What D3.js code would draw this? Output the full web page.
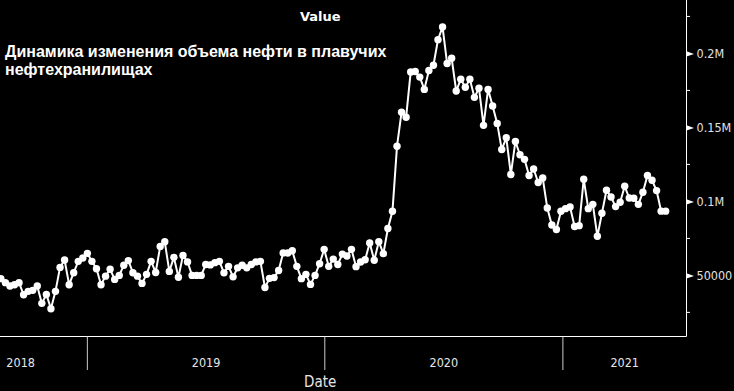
<!DOCTYPE html>
<html><head><meta charset="utf-8">
<script src="https://cdn.jsdelivr.net/npm/d3@7"></script>
<style>html,body{margin:0;padding:0;background:#000;overflow:hidden}svg{display:block}</style>
</head><body><svg id="c" width="734" height="391"></svg>
<script>
// ---------- data ----------
const titleLines = ["Динамика изменения объема нефти в плавучих", "нефтехранилищах"];
const seriesName = "Value";
const xAxisTitle = "Date";
const firstWeek = "2018-08-21";
const values = [
  47800,45100,42800,43700,45100,36900,39200,39900,42800,31100,
  37100,27500,39200,55400,60400,43700,51800,59500,61700,64900,
  59500,54500,43700,49500,54100,47300,50000,56800,60000,51800,
  49500,44600,50700,59500,52000,69600,72700,52700,62200,48700,
  63500,59100,50000,50000,50000,57400,57100,58600,59500,51700,
  56100,49000,55100,56800,55100,57400,59100,59500,41800,48000,
  48500,53300,65200,65100,66600,56100,47800,50700,43900,50000,
  57900,67600,56100,61000,57400,64400,63100,67600,55900,59000,
  60600,71900,60200,72800,64700,81700,93300,137300,160300,156900,
  187400,187800,184000,175700,188500,192000,209300,217900,193200,196700,
  174600,182500,177100,182500,170300,176500,151400,175700,164500,152700,
  135100,143000,118200,140500,131500,128400,117500,121900,112800,115800,
  95500,84000,81000,93300,95100,96200,83000,83600,115000,95100,
  98000,76400,92000,107500,103000,96500,99400,110200,102300,102100,
  98000,106200,117500,114300,107300,93400,93400
];
const yMajorTicks = [50000, 100000, 150000, 200000];
const yMajorLabels = ["50000", "0.1M", "0.15M", "0.2M"];
const yMinorTicks = [25000, 75000, 125000, 175000, 225000];
const yearLabels = ["2018", "2019", "2020", "2021"];
const xDomain = ["2018-06-10", "2021-07-10"];
const yDomain = [8700, 236100];

// ---------- layout ----------
const W = 734, H = 391;
const plotLeft = -46, plotRight = 686.5, plotTop = 0, plotBottom = 336.5;
const axisFont = "'DejaVu Sans Condensed', 'DejaVu Sans', sans-serif";

const svg = d3.select("#c");
svg.append("rect").attr("width", W).attr("height", H).attr("fill", "#000");

const x = d3.scaleUtc().domain(xDomain.map(d => new Date(d + "T00:00:00Z"))).range([plotLeft, plotRight]);
const y = d3.scaleLinear().domain(yDomain).range([plotBottom, plotTop]);

const start = new Date(firstWeek + "T00:00:00Z");
const data = values.map((v, i) => ({ date: d3.utcDay.offset(start, 7 * i), value: v }));

// series title
svg.append("text").attr("x", (plotLeft + plotRight) / 2).attr("y", 20.5)
  .attr("text-anchor", "middle").attr("fill", "#fff")
  .style("font-family", "'DejaVu Sans', sans-serif").style("font-weight", "bold").style("font-size", "13px")
  .text(seriesName);

// frame: right and bottom
svg.append("line").attr("x1", plotRight).attr("x2", plotRight).attr("y1", plotTop).attr("y2", plotBottom)
  .attr("stroke", "#fff").attr("stroke-width", 1);
svg.append("line").attr("x1", plotLeft).attr("x2", plotRight).attr("y1", plotBottom).attr("y2", plotBottom)
  .attr("stroke", "#fff").attr("stroke-width", 1);

// y axis (right)
const yAxis = d3.axisRight(y).tickValues(yMajorTicks)
  .tickFormat((d, i) => yMajorLabels[i]).tickSize(0).tickPadding(10);
const gy = svg.append("g").attr("transform", `translate(${plotRight},0)`).call(yAxis);
gy.select(".domain").remove();
gy.selectAll("text").attr("fill", "#e0e0e0").style("font-family", axisFont).style("font-size", "12.5px");
gy.selectAll(".tick").append("path").attr("d", "M0,-2.6L7.5,0L0,2.6Z").attr("fill", "#fff");
svg.append("g").selectAll("line").data(yMinorTicks).join("line")
  .attr("x1", plotRight).attr("x2", plotRight + 3.5)
  .attr("y1", d => y(d)).attr("y2", d => y(d)).attr("stroke", "#fff");

// x axis: year bands
const years = d3.utcYear.range(d3.utcYear.floor(x.domain()[0]), x.domain()[1]);
const bounds = d3.utcYear.range(d3.utcYear.ceil(x.domain()[0]), x.domain()[1]);
svg.append("g").selectAll("line").data(bounds).join("line")
  .attr("x1", d => x(d)).attr("x2", d => x(d))
  .attr("y1", plotBottom).attr("y2", 370)
  .attr("stroke", "#ccc").attr("stroke-width", 1);
svg.append("g").selectAll("text").data(years).join("text")
  .attr("x", d => {
    const a = Math.max(x(d), plotLeft), b = Math.min(x(d3.utcYear.offset(d, 1)), plotRight);
    return (a + b) / 2;
  })
  .attr("y", 366.5).attr("text-anchor", "middle").attr("fill", "#e6e6e6")
  .style("font-family", axisFont).style("font-size", "12.5px")
  .text((d, i) => yearLabels[i]);

svg.append("text").attr("x", (plotLeft + plotRight) / 2).attr("y", 386.5)
  .attr("text-anchor", "middle").attr("fill", "#e6e6e6")
  .style("font-family", axisFont).style("font-size", "15px").text(xAxisTitle);

// line + points
svg.append("path").datum(data)
  .attr("d", d3.line().x(d => x(d.date)).y(d => y(d.value)))
  .attr("fill", "none").attr("stroke", "#fff").attr("stroke-width", 2);
svg.append("g").selectAll("circle").data(data).join("circle")
  .attr("cx", d => x(d.date)).attr("cy", d => y(d.value)).attr("r", 3.7).attr("fill", "#fff");

// chart title
const tt = svg.append("text").attr("fill", "#fff")
  .style("font-family", "'Liberation Sans', Arial, sans-serif").style("font-weight", "bold").style("font-size", "16px");
titleLines.forEach((t, i) => tt.append("tspan").attr("x", 5).attr("y", 57 + i * 18).text(t));
</script></body></html>
